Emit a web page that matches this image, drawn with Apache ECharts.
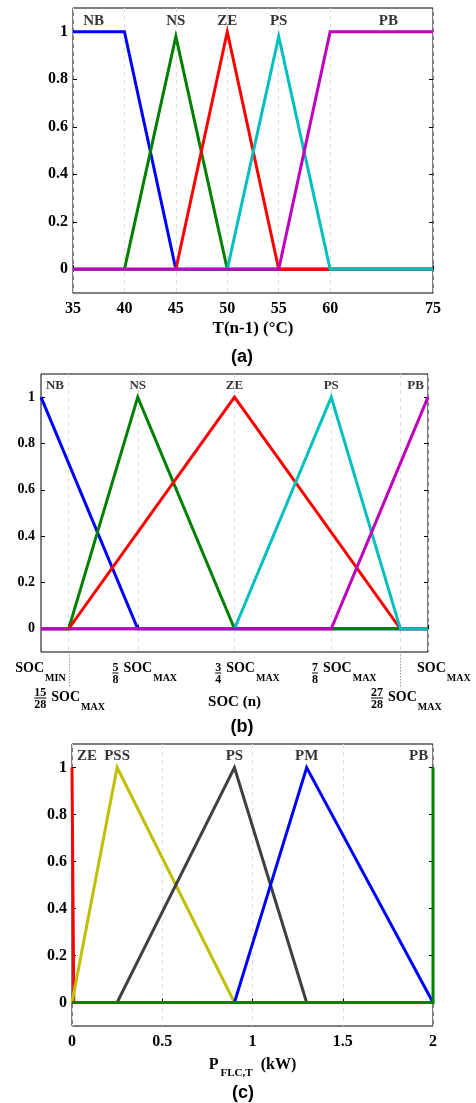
<!DOCTYPE html>
<html><head><meta charset="utf-8">
<script src="https://cdn.jsdelivr.net/npm/echarts@6/dist/echarts.min.js"></script>
<style>html,body{margin:0;padding:0;background:#fff}#c{width:476px;height:1103px}</style>
</head><body><div id="c"></div>
<script>
// ================= DATA =================
const yTicks = [0, 0.2, 0.4, 0.6, 0.8, 1];

// (a) T(n-1) membership functions (°C)
const aTicks = [35, 40, 45, 50, 55, 60, 75];
const aNames = ['NB', 'NS', 'ZE', 'PS', 'PB'];
const aNB_T = [35, 40, 45, 75];      const aNB_mu = [1, 1, 0, 0];
const aNS_T = [35, 40, 45, 50, 75];  const aNS_mu = [0, 0, 0.98, 0, 0];
const aZE_T = [35, 45, 50, 55, 75];  const aZE_mu = [0, 0, 1, 0, 0];
const aPS_T = [35, 50, 55, 60, 75];  const aPS_mu = [0, 0, 0.98, 0, 0];
const aPB_T = [35, 55, 60, 75];      const aPB_mu = [0, 0, 1, 1];
const aLabelT = [37, 45, 50, 55, 68.5];
const aLabelMu = 1.046;

// (b) SOC(n) membership functions (fraction of SOC_MAX)
const bMin = 0.5, bMax = 1;
const bTicks = [15/28, 5/8, 3/4, 7/8, 27/28, 1];
const bNames = ['NB', 'NS', 'ZE', 'PS', 'PB'];
const bNB_x = [0.5, 5/8, 1];                  const bNB_mu = [1, 0, 0];
const bNS_x = [0.5, 15/28, 5/8, 3/4, 1];      const bNS_mu = [0, 0, 1, 0, 0];
const bZE_x = [0.5, 15/28, 3/4, 27/28, 1];    const bZE_mu = [0, 0, 1, 0, 0];
const bPS_x = [0.5, 3/4, 7/8, 27/28, 1];      const bPS_mu = [0, 0, 1, 0, 0];
const bPB_x = [0.5, 7/8, 1];                  const bPB_mu = [0, 0, 1];
const bLabelX = [0.518, 0.625, 0.75, 0.875, 0.984];
const bLabelMu = 1.05;
const bTickLabelValue = [15/28, 15/28, 5/8, 3/4, 7/8, 27/28, 1];
const bTickLabelNum   = [null, '15', '5', '3', '7', '27', null];
const bTickLabelDen   = [null, '28', '8', '4', '8', '28', null];
const bTickLabelSub   = ['MIN', 'MAX', 'MAX', 'MAX', 'MAX', 'MAX', 'MAX'];
const bDottedTicks = [15/28, 27/28];

// (c) P_FLC,T membership functions (kW)
const cTicks = [0, 0.5, 1, 1.5, 2];
const cNames = ['ZE', 'PSS', 'PS', 'PM', 'PB'];
const cZE_P  = [0, 0.01, 2];            const cZE_mu  = [1, 0, 0];
const cPSS_P = [0, 0.25, 0.9, 2];       const cPSS_mu = [0, 1, 0, 0];
const cPS_P  = [0, 0.25, 0.9, 1.3, 2];  const cPS_mu  = [0, 0, 1, 0, 0];
const cPM_P  = [0, 0.9, 1.3, 2];        const cPM_mu  = [0, 0, 1, 0];
const cPB_P  = [0, 2, 2];               const cPB_mu  = [0, 0, 1];
const cLabelP = [0.083, 0.25, 0.9, 1.3, 1.92];
const cLabelMu = 1.05;

// ================= STYLE / LAYOUT =================
const SERIF = '"Liberation Serif", "Times New Roman", serif';
const SANS = '"Liberation Sans", Arial, sans-serif';
const abColors = ['#0000ff', '#008000', '#ff0000', '#00bfbf', '#bf00bf'];
const cColors = ['#ff0000', '#c0bf00', '#404040', '#0000ff', '#008000'];
// axis break of panel (a): 60..75 °C drawn compressed
const A_BREAK = 60, A_COMPRESS = 10 / 15;
const aPos = t => t <= A_BREAK ? t : A_BREAK + (t - A_BREAK) * A_COMPRESS;
const aInv = p => p <= A_BREAK ? p : A_BREAK + (p - A_BREAK) / A_COMPRESS;

const grids = [
  {left: 73, top: 8, width: 360, height: 285},
  {left: 41, top: 374, width: 387, height: 278},
  {left: 72, top: 744, width: 361, height: 282}
].map(g => Object.assign({show: true, borderColor: '#000', borderWidth: 1, backgroundColor: 'transparent', containLabel: false, outerBoundsMode: 'none'}, g));

const fmtY = v => (v === 0 ? '0' : v === 1 ? '1' : v.toFixed(1));

function xAxisDef(gi, min, max, ticks, opts) {
  return Object.assign({
    gridIndex: gi, type: 'value', min, max,
    axisLine: {show: false},
    axisTick: {show: true, inside: true, length: 4, lineStyle: {color: '#000', width: 1}, customValues: ticks},
    axisLabel: {show: true, customValues: ticks, margin: 8, color: '#000', fontFamily: SERIF, fontWeight: 'bold', fontSize: 16},
    splitLine: {show: true, lineStyle: {color: '#dcdcdc', width: 1, type: [4, 4]}},
    nameLocation: 'middle'
  }, opts);
}
function yAxesDef(gi, fs, margin) {
  return [{
    gridIndex: gi, type: 'value', min: -0.1, max: 1.1, position: 'left',
    axisLine: {show: false},
    axisTick: {show: true, inside: true, length: 4, lineStyle: {color: '#000'}, customValues: yTicks},
    axisLabel: {show: true, customValues: yTicks, formatter: fmtY, margin, color: '#000', fontFamily: SERIF, fontWeight: 'bold', fontSize: fs},
    splitLine: {show: false}
  }, {
    gridIndex: gi, type: 'value', min: -0.1, max: 1.1, position: 'right',
    axisLine: {show: false},
    axisTick: {show: true, inside: true, length: 4, lineStyle: {color: '#000'}, customValues: yTicks},
    axisLabel: {show: false}, splitLine: {show: false}
  }];
}

function lineSeries(gi, name, xs, ys, color, map) {
  return {
    type: 'line', name, xAxisIndex: gi, yAxisIndex: gi * 2,
    data: xs.map((x, i) => [map ? map(x) : x, ys[i]]),
    symbol: 'none', showSymbol: false, clip: false, silent: true, animation: false,
    lineStyle: {color, width: 3, cap: 'butt', join: 'miter'}, itemStyle: {color}
  };
}
function labelSeries(gi, names, xs, y, fs, map) {
  return {
    type: 'scatter', xAxisIndex: gi, yAxisIndex: gi * 2, symbolSize: 0, silent: true, animation: false, clip: false,
    data: names.map((n, i) => ({name: n, value: [map ? map(xs[i]) : xs[i], y]})),
    label: {show: true, position: 'inside', formatter: '{b}', color: '#000', fontFamily: SERIF, fontWeight: 'bold', fontSize: fs}
  };
}

const aSetsX = [aNB_T, aNS_T, aZE_T, aPS_T, aPB_T], aSetsY = [aNB_mu, aNS_mu, aZE_mu, aPS_mu, aPB_mu];
const bSetsX = [bNB_x, bNS_x, bZE_x, bPS_x, bPB_x], bSetsY = [bNB_mu, bNS_mu, bZE_mu, bPS_mu, bPB_mu];
const cSetsX = [cZE_P, cPSS_P, cPS_P, cPM_P, cPB_P], cSetsY = [cZE_mu, cPSS_mu, cPS_mu, cPM_mu, cPB_mu];

const series = [];
aNames.forEach((n, i) => series.push(lineSeries(0, 'a' + n, aSetsX[i], aSetsY[i], abColors[i], aPos)));
series.push(labelSeries(0, aNames, aLabelT, aLabelMu, 15, aPos));
bNames.forEach((n, i) => series.push(lineSeries(1, 'b' + n, bSetsX[i], bSetsY[i], abColors[i])));
series.push(labelSeries(1, bNames, bLabelX, bLabelMu, 13));
cNames.forEach((n, i) => series.push(lineSeries(2, 'c' + n, cSetsX[i], cSetsY[i], cColors[i])));
series.push(labelSeries(2, cNames, cLabelP, cLabelMu, 15));

const option = {
  animation: false,
  backgroundColor: '#fff',
  grid: grids,
  xAxis: [
    xAxisDef(0, aPos(aTicks[0]), aPos(aTicks[aTicks.length - 1]), aTicks.map(aPos), {
      axisLabel: {show: true, customValues: aTicks.map(aPos), formatter: v => String(Math.round(aInv(v))), margin: 8, color: '#000', fontFamily: SERIF, fontWeight: 'bold', fontSize: 16},
      name: 'T(n-1) (°C)', nameGap: 27,
      nameTextStyle: {color: '#000', fontFamily: SERIF, fontWeight: 'bold', fontSize: 17}
    }),
    xAxisDef(1, bMin, bMax, bTicks, {
      axisLabel: {show: false},
      name: 'SOC (n)', nameGap: 43,
      nameTextStyle: {color: '#000', fontFamily: SERIF, fontWeight: 'bold', fontSize: 15}
    }),
    xAxisDef(2, cTicks[0], cTicks[cTicks.length - 1], cTicks, {
      axisLabel: {show: true, customValues: cTicks, formatter: v => String(v), margin: 8, color: '#000', fontFamily: SERIF, fontWeight: 'bold', fontSize: 16},
      name: '{p|P}{s|FLC,T}{p|(kW)}', nameGap: 24,
      nameTextStyle: {color: '#000', rich: {
        p: {fontFamily: SERIF, fontWeight: 'bold', fontSize: 16, color: '#000'},
        s: {fontFamily: SERIF, fontWeight: 'bold', fontSize: 11, color: '#000', padding: [18, 8, 0, 2]}
      }}
    })
  ],
  yAxis: [].concat(yAxesDef(0, 16, 5), yAxesDef(1, 14, 6), yAxesDef(2, 16, 5)),
  series
};

const chart = echarts.init(document.getElementById('c'), null, {renderer: 'canvas'});
chart.setOption(option);

// ---------- custom tick labels for panel (b) and panel captions ----------
const mctx = document.createElement('canvas').getContext('2d');
function tw(t, size) { mctx.font = 'bold ' + size + 'px ' + SERIF; return mctx.measureText(t).width; }
const SOC_FS = 14, SUB_FS = 10, FR_FS = 12, FR_GAP = 5;
const bAlign = ['right', 'center', 'center', 'center', 'center', 'center', 'left'];
const bDx = [-3, 1, 7, 13, 13, 6, -11];
const bRowDy = [16, 45];      // SOC centre below the axis
const bFracDy = [5, 1];       // fraction bar relative to SOC centre
const g = [];
const bottomB = grids[1].top + grids[1].height;
function txt(t, x, y, size, align, family) {
  return {type: 'text', x, y, silent: true, style: {text: t, fill: '#000', fontSize: size, fontWeight: 'bold', fontFamily: family || SERIF, align, verticalAlign: 'middle'}};
}
bTickLabelValue.forEach((v, i) => {
  const px = chart.convertToPixel({gridIndex: 1}, [v, 0])[0];
  const row = i === 1 || i === 5 ? 1 : 0;
  const yc = bottomB + bRowDy[row];
  const hasFrac = !!bTickLabelNum[i];
  const fw = hasFrac ? Math.max(tw(bTickLabelNum[i], FR_FS), tw(bTickLabelDen[i], FR_FS)) : 0;
  const total = (hasFrac ? fw + FR_GAP : 0) + tw('SOC', SOC_FS) + 1 + tw(bTickLabelSub[i], SUB_FS);
  let x0;
  if (bAlign[i] === 'right') x0 = px + bDx[i] - total;
  else if (bAlign[i] === 'left') x0 = px + bDx[i];
  else x0 = px + bDx[i] - total / 2;
  if (hasFrac) {
    const by = yc + bFracDy[row];
    g.push(txt(bTickLabelNum[i], x0 + fw / 2, by - 5.5, FR_FS, 'center'));
    g.push({type: 'line', silent: true, shape: {x1: x0, y1: by, x2: x0 + fw, y2: by}, style: {stroke: '#000', lineWidth: 1}});
    g.push(txt(bTickLabelDen[i], x0 + fw / 2, by + 6.5, FR_FS, 'center'));
    x0 += fw + FR_GAP;
  }
  g.push(txt('SOC', x0, yc, SOC_FS, 'left'));
  g.push(txt(bTickLabelSub[i], x0 + tw('SOC', SOC_FS) + 1, yc + 10, SUB_FS, 'left'));
});
bDottedTicks.forEach(v => {
  const px = Math.round(chart.convertToPixel({gridIndex: 1}, [v, 0])[0]) + 0.5;
  g.push({type: 'line', silent: true, shape: {x1: px, y1: bottomB, x2: px, y2: bottomB + 36}, style: {stroke: '#999', lineWidth: 1, lineDash: [1.5, 1.5]}});
});
g.push(txt('(a)', 242, 357, 18, 'center', SANS));
g.push(txt('(b)', 242, 727, 18, 'center', SANS));
g.push(txt('(c)', 243, 1093, 18, 'center', SANS));
chart.setOption({graphic: {elements: g}});
</script>
</body></html>
